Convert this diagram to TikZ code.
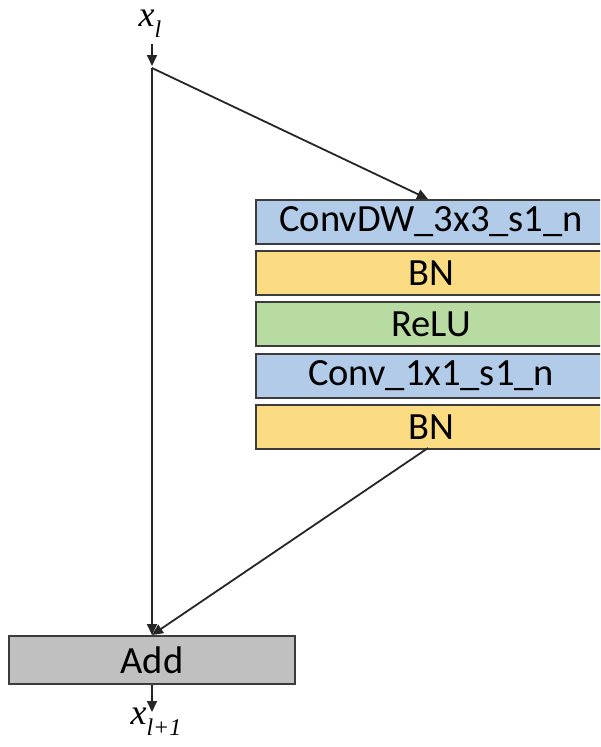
\documentclass[tikz,border=0pt]{standalone}
\usepackage{fontspec}
\setmainfont{Carlito}
\newfontfamily\varfont{Liberation Serif}
\usetikzlibrary{arrows.meta}
\definecolor{convblue}{RGB}{178,203,232}
\definecolor{bnyellow}{RGB}{252,220,130}
\definecolor{relugreen}{RGB}{184,219,162}
\definecolor{addgray}{RGB}{192,192,192}
\definecolor{edge}{RGB}{60,60,60}
\newcommand{\tensor}[1]{x\raisebox{-0.3em}{\fontsize{24}{24}\selectfont #1}}
\tikzset{
  layer/.style={draw=edge, line width=2pt, minimum width=350pt, minimum height=44pt,
    inner sep=0pt, font=\fontsize{38.5}{42}\selectfont, anchor=north west},
  link/.style={line width=1.8pt, draw=black!85, -{Triangle[length=11pt,width=10pt]}},
  var/.style={inner sep=0pt, font=\fontsize{36}{38}\varfont\itshape}
}
\begin{document}
\begin{tikzpicture}[x=1pt,y=-1pt]
\useasboundingbox (0,0) rectangle (600,747);
\clip (0,0) rectangle (600,747);
% input and output labels
\node[var] (xin) at (150,24) {\tensor{l}};
\node[var] (xout) at (156,722) {\tensor{l+1}};
\coordinate (split) at (152,68);
% residual branch layers
\node[layer, fill=convblue]  (dw)   at (255,199) {ConvDW\_3x3\_s1\_n};
\node[layer, fill=bnyellow]  (bn1)  at (255,250) {BN};
\node[layer, fill=relugreen] (relu) at (255,301) {ReLU};
\node[layer, fill=convblue]  (pw)   at (255,353) {Conv\_1x1\_s1\_n};
\node[layer, fill=bnyellow]  (bn2)  at (255,404) {BN};
% sum
\node[draw=edge, line width=2pt, fill=addgray, minimum width=286pt, minimum height=48pt,
  inner sep=0pt, font=\fontsize{38.5}{42}\selectfont] (add) at (152,660) {Add};
\coordinate (dwin) at (428,199);
\coordinate (bnout) at (428,448);
\coordinate (xtop) at (152,44);
\coordinate (xtip) at (152,66);
\coordinate (obot) at (152,684);
\coordinate (otip) at (152,712);
% connectors
\draw[link] (xtop) -- (xtip);
\draw[link] (split) -- (dwin);
\draw[link] (bnout) -- (add.north);
\draw[link] (split) -- (add.north);
\draw[link] (add.south) -- (otip);
\end{tikzpicture}
\end{document}
